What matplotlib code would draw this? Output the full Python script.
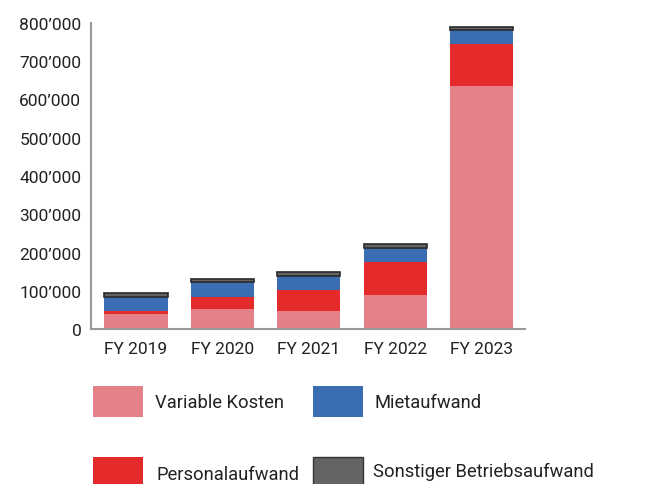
import matplotlib
matplotlib.use("Agg")
import matplotlib.pyplot as plt
from matplotlib.patches import Rectangle
from matplotlib.ticker import FuncFormatter
import numpy as np

plt.rcParams['font.family'] = ['Roboto', 'DejaVu Sans']

years = ["FY 2019", "FY 2020", "FY 2021", "FY 2022", "FY 2023"]
variable_kosten = [39000, 52000, 47000, 89000, 635000]
personalaufwand = [7000, 31000, 55000, 87000, 110000]
mietaufwand = [37000, 39000, 37000, 35000, 36000]
sonstiger = [10000, 9000, 9000, 10000, 9000]

series_names = ["Variable Kosten", "Personalaufwand", "Mietaufwand", "Sonstiger Betriebsaufwand"]
colors = ["#E48087", "#E52A2B", "#3B6DB3", "#646466"]

fig = plt.figure(figsize=(6.64, 4.85), dpi=100)
ax = fig.add_axes([91/664, 1 - 330/485, (525 - 91)/664, (330 - 24)/485])

x = np.arange(len(years))
width = 0.73
bottom = np.zeros(len(years))
for name, vals, col in zip(series_names, [variable_kosten, personalaufwand, mietaufwand, sonstiger], colors):
    if name == "Sonstiger Betriebsaufwand":
        ax.bar(x, vals, width, bottom=bottom, color=col, edgecolor="#2a2a2a", linewidth=1.2)
    else:
        ax.bar(x, vals, width, bottom=bottom, color=col, linewidth=0)
    bottom += np.array(vals)

ax.set_xlim(-0.52, 4.5)
ax.set_ylim(0, 800000)
ax.set_yticks(np.arange(0, 800001, 100000))
ax.yaxis.set_major_formatter(FuncFormatter(lambda v, p: "0" if v == 0 else f"{int(v):,}".replace(",", "\u2019")))
ax.set_xticks(x)
ax.set_xticklabels(years)
ax.tick_params(axis="both", length=0, labelsize=12.5, colors="#222222")
ax.tick_params(axis="x", pad=9)
ax.tick_params(axis="y", pad=7)
for s in ["top", "right"]:
    ax.spines[s].set_visible(False)
for s in ["left", "bottom"]:
    ax.spines[s].set_color("#999999")
    ax.spines[s].set_linewidth(1.5)

# legend drawn by hand in figure pixels
def legend_item(px, py, label, col, tx, ty, edge=None):
    W, H = 664, 485
    r = Rectangle((px / W, 1 - (py + 31) / H), 50 / W, 31 / H, transform=fig.transFigure,
                  facecolor=col, edgecolor=edge if edge else col, linewidth=1.0 if edge else 0)
    fig.add_artist(r)
    fig.text(tx / W, 1 - ty / H, label, fontsize=13.2, color="#222222", va="center", ha="left")

legend_item(93, 387, "Variable Kosten", colors[0], 155, 403)
legend_item(313, 387, "Mietaufwand", colors[2], 375, 403)
legend_item(93, 458, "Personalaufwand", colors[1], 156, 475)
legend_item(313, 458, "Sonstiger Betriebsaufwand", colors[3], 373, 472, edge="#333333")

fig.savefig("out.png", dpi=100)
